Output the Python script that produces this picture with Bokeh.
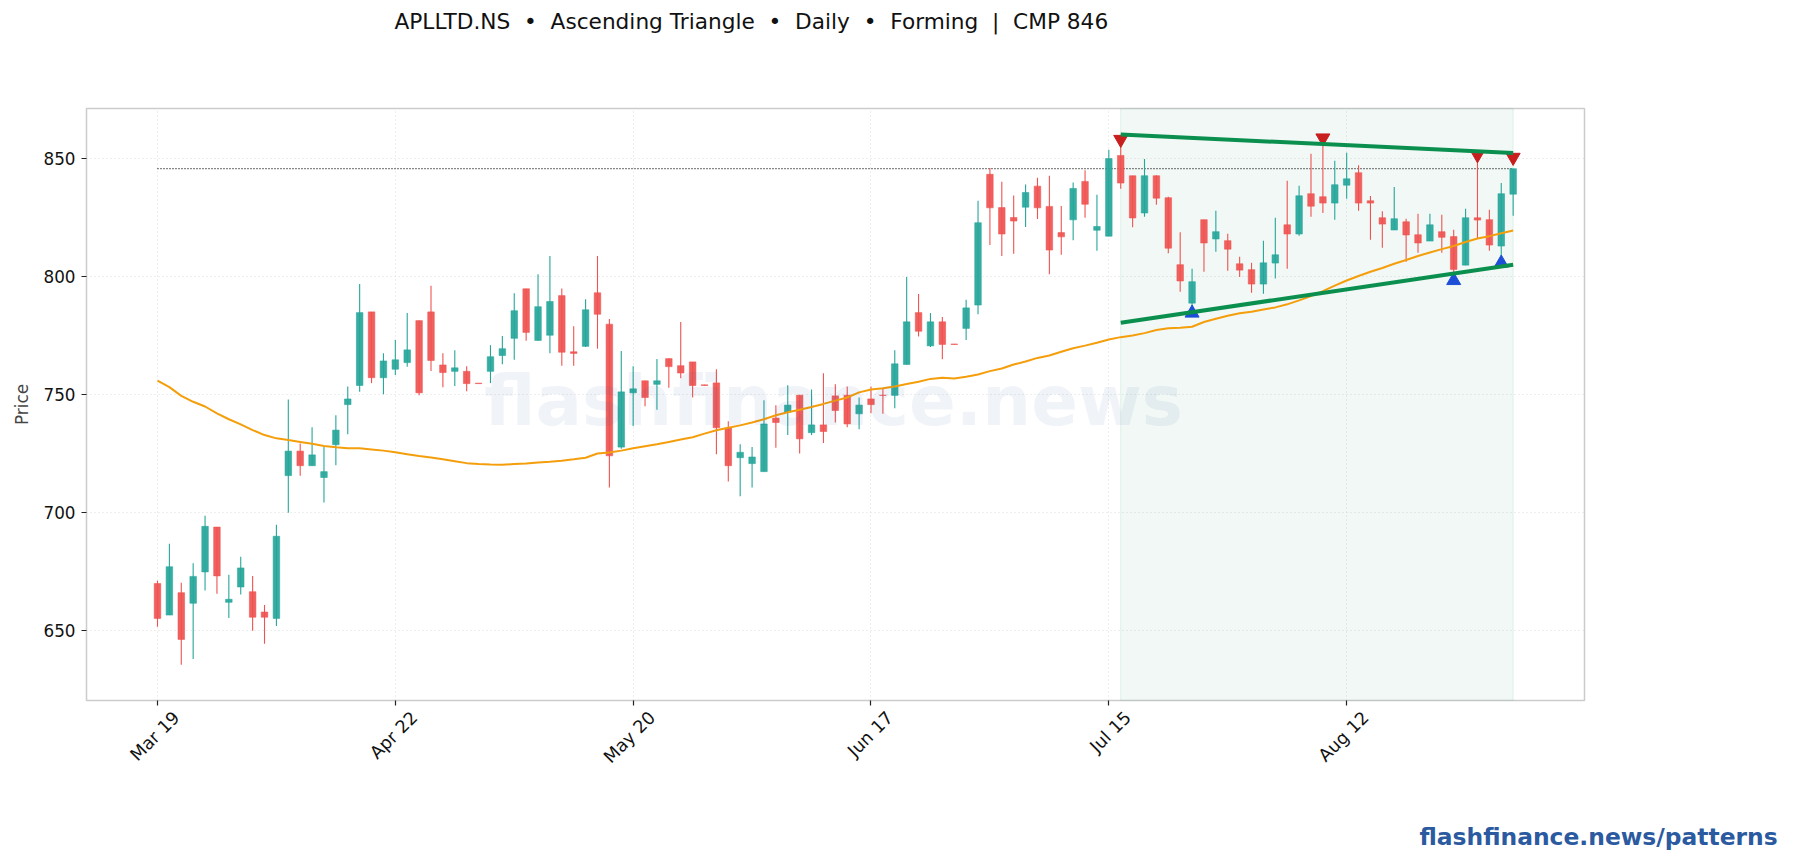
from bokeh.plotting import figure
from bokeh.models import ColumnDataSource, FixedTicker, Label, BoxAnnotation, Title, LinearAxis, Range1d
from bokeh.embed import file_html
from bokeh.resources import INLINE
import math

NB = "\u00a0"
title_text = f"APLLTD.NS{NB}{NB}•{NB}{NB}Ascending Triangle{NB}{NB}•{NB}{NB}Daily{NB}{NB}•{NB}{NB}Forming{NB}{NB}|{NB}{NB}CMP 846"
watermark_text = "flashfinance.news"
footer_text = "flashfinance.news/patterns"
y_label = "Price"

tick_index = [0, 20, 40, 60, 80, 100]
tick_labels = ["Mar 19", "Apr 22", "May 20", "Jun 17", "Jul 15", "Aug 12"]
y_ticks = [650, 700, 750, 800, 850]

opens = [670.0,656.6,666.1,661.6,674.9,693.9,662.0,668.5,666.5,657.9,655.2,715.7,726.1,719.9,714.9,728.8,745.8,753.9,785.1,757.2,
         760.8,763.6,781.4,785.1,762.6,759.9,759.9,754.9,759.9,766.6,773.9,794.9,773.0,775.2,792.0,768.2,770.5,793.2,779.9,727.8,
         750.8,755.9,754.4,765.3,762.3,763.9,754.2,755.0,735.9,723.3,720.8,717.4,740.1,742.6,749.8,733.9,737.2,749.5,749.8,741.9,
         748.2,749.8,749.7,762.8,784.8,770.7,780.9,771.5,778.1,788.0,843.4,829.3,825.1,829.5,838.4,829.8,818.7,824.1,840.4,819.7,
         817.2,851.4,842.8,827.0,842.8,833.5,805.1,788.8,824.2,816.0,815.3,805.5,803.0,796.9,805.8,822.0,818.1,835.2,833.9,831.2,
         838.8,844.1,832.2,825.0,819.8,823.3,817.8,815.1,819.1,817.0,804.9,825.0,824.2,813.0,835.0]
closes = [655.2,677.1,646.3,673.0,694.2,673.2,663.3,676.6,655.7,655.7,690.0,726.1,719.9,724.5,717.4,735.0,748.2,784.8,757.2,764.3,
          764.8,769.0,750.8,764.5,759.4,761.4,754.7,754.7,766.1,769.5,785.6,776.4,787.3,789.5,768.0,767.5,786.0,784.1,724.1,751.2,
          752.5,748.8,755.9,761.9,759.2,753.9,753.9,736.0,719.9,725.6,723.6,737.6,738.2,745.6,731.3,737.2,734.4,743.3,737.6,745.6,
          745.8,749.7,763.1,780.9,776.9,780.9,771.3,771.3,786.8,822.9,829.2,818.1,823.6,835.7,829.2,811.3,816.9,837.4,830.7,821.3,
          850.1,839.7,824.9,842.8,833.3,812.1,798.2,797.9,814.3,819.1,811.7,802.8,796.9,805.9,809.3,818.1,834.3,829.9,831.2,839.0,
          841.5,831.2,831.2,822.3,824.6,817.7,814.3,822.0,816.7,803.1,825.0,824.0,813.4,835.2,845.8]
highs = [671.2,686.8,670.3,678.6,698.7,693.9,673.7,681.3,673.2,660.9,694.9,748.0,729.3,736.2,727.8,741.3,753.5,796.9,785.1,767.6,
         773.2,784.6,781.4,796.2,767.6,768.8,762.1,754.9,771.0,774.9,793.0,794.9,801.1,808.8,795.0,779.0,790.5,808.8,782.1,768.5,
         762.1,755.9,765.1,765.3,780.8,763.9,754.2,760.8,738.7,729.0,727.8,747.6,745.5,754.0,749.8,752.2,759.1,754.4,753.5,748.8,
         753.5,752.4,768.8,799.9,792.7,784.6,782.9,771.5,790.2,832.2,846.1,840.3,834.4,839.1,841.9,842.8,830.0,839.9,845.1,834.7,
         853.8,858.2,842.8,849.9,843.0,833.9,818.9,803.4,824.2,828.0,818.2,808.5,805.9,815.3,825.0,840.7,838.6,852.1,858.8,849.2,
         852.5,847.3,834.2,827.8,838.0,824.6,826.7,826.7,826.3,819.9,828.8,851.7,828.4,839.7,845.8]
lows = [651.7,656.6,635.5,638.0,667.0,665.6,655.4,665.3,650.0,644.5,652.0,700.0,715.7,719.9,704.3,720.1,733.2,751.3,754.9,750.2,
        758.4,761.8,749.8,760.1,753.2,753.7,751.5,754.7,754.9,762.9,764.8,772.9,773.0,767.6,762.3,762.3,770.2,769.5,710.7,727.1,
        736.7,745.1,743.6,752.9,757.0,748.8,753.9,724.8,713.2,707.0,710.7,717.4,727.5,732.9,725.1,732.9,729.5,738.2,736.2,735.4,
        742.1,741.9,744.3,762.8,774.7,770.2,765.0,771.3,773.2,784.1,813.5,808.8,809.7,821.1,824.5,801.1,809.3,815.5,825.0,811.0,
        817.2,837.3,821.0,825.4,830.5,810.0,793.6,784.6,802.1,810.6,802.5,799.9,793.2,792.8,799.2,803.4,817.4,825.4,827.0,824.2,
        833.1,828.0,815.7,812.3,819.8,806.4,810.2,815.1,810.2,798.4,804.9,816.2,811.0,805.8,825.8]
ma_line = [756.0,753.2,749.5,747.0,745.0,742.1,739.6,737.4,735.0,732.9,731.5,730.8,730.0,729.2,728.3,727.7,727.3,727.3,726.8,726.3,
           725.6,724.8,724.0,723.4,722.6,721.8,721.0,720.6,720.4,720.3,720.6,720.8,721.3,721.6,722.0,722.6,723.3,725.1,725.5,726.3,
           727.3,728.2,729.0,730.0,731.0,732.0,733.5,734.9,736.0,737.0,738.2,739.6,741.3,742.6,743.6,744.8,746.1,747.5,748.8,751.0,
           752.2,752.7,753.5,754.5,755.5,756.7,757.2,756.9,757.6,758.6,760.0,761.1,762.8,764.1,765.6,766.6,768.2,769.7,770.8,772.0,
           773.4,774.4,775.1,776.1,777.4,778.2,778.4,778.8,780.8,782.2,783.5,784.5,785.2,786.1,787.0,788.3,790.0,791.8,793.9,796.2,
           798.4,800.3,802.1,803.7,805.5,807.1,808.8,810.3,811.7,813.0,814.7,816.2,817.2,818.4,819.6]

swing_high_idx = [81, 98, 111, 114]
swing_high_val = [858.2, 858.8, 851.7, 850.6]
swing_low_idx = [87, 109, 113]
swing_low_val = [784.6, 798.4, 805.8]

upper_idx = [81, 114]
upper_val = [860.3, 852.4]
lower_idx = [81, 114]
lower_val = [780.5, 805.1]
pattern_span = [81, 114]
cmp_price = 845.8

GREEN = "#26a69a"
RED = "#ef5350"
idx = list(range(len(opens)))
colors = [GREEN if c >= o else RED for o, c in zip(opens, closes)]
src = ColumnDataSource(dict(x=idx, top=[max(o, c) for o, c in zip(opens, closes)],
                            bottom=[min(o, c) for o, c in zip(opens, closes)],
                            high=highs, low=lows, color=colors))

W, H = 1785, 852
FL, FT, FW, FH = 86, 108, 1498, 592
XS, XE = -5.97, 120.0
LABEL_SHIFT = 1.6

p = figure(width=W, height=H, output_backend="svg", toolbar_location=None,
           x_range=(XS, XE), y_range=(620.4, 871.3),
           frame_width=FW, frame_height=FH, min_border_left=FL, min_border_top=FT,
           min_border_right=W - FL - FW, min_border_bottom=H - FT - FH)
p.background_fill_color = "white"
p.border_fill_color = "white"
p.outline_line_color = "#cccccc"
p.outline_line_width = 1.5

# tick marks only: minor ticks carry no labels
p.xaxis.ticker = FixedTicker(ticks=[], minor_ticks=tick_index)
p.xaxis.axis_line_color = None
p.xaxis.major_tick_line_color = None
p.xaxis.minor_tick_line_color = "#222222"
p.xaxis.minor_tick_line_width = 1.2
p.xaxis.minor_tick_out = 5
p.xaxis.minor_tick_in = 0
p.xgrid[0].ticker = FixedTicker(ticks=tick_index)

p.yaxis.ticker = FixedTicker(ticks=y_ticks)
p.yaxis.axis_line_color = None
p.yaxis.major_tick_line_color = "#222222"
p.yaxis.major_tick_line_width = 1.2
p.yaxis.major_tick_out = 5
p.yaxis.major_tick_in = 0
p.yaxis.minor_tick_line_color = None
p.yaxis.major_label_text_font = "DejaVu Sans"
p.yaxis.major_label_text_font_size = "16.8px"
p.yaxis.major_label_text_color = "#111111"
p.yaxis.major_label_standoff = 6
p.yaxis.axis_label = y_label
p.yaxis.axis_label_text_font = "DejaVu Sans"
p.yaxis.axis_label_text_font_style = "normal"
p.yaxis.axis_label_text_font_size = "16.8px"
p.yaxis.axis_label_text_color = "#444444"
p.yaxis.axis_label_standoff = 8

# Rotated labels centred under their ticks: a tick-less axis on a shifted range.
p.extra_x_ranges = {"labels": Range1d(XS - LABEL_SHIFT, XE - LABEL_SHIFT)}
lab_axis = LinearAxis(x_range_name="labels", ticker=FixedTicker(ticks=tick_index),
                      major_label_overrides={i: s for i, s in zip(tick_index, tick_labels)},
                      major_label_orientation=math.pi / 4,
                      axis_line_color=None, major_tick_line_color=None, minor_tick_line_color=None,
                      major_label_text_font="DejaVu Sans", major_label_text_font_size="17.6px",
                      major_label_text_color="#111111", major_label_standoff=3)
p.add_layout(lab_axis, "below")

for g in (p.xgrid[0], p.ygrid[0]):
    g.grid_line_color = "#dddddd"
    g.grid_line_dash = "1 3"
    g.grid_line_width = 1

p.add_layout(BoxAnnotation(left=pattern_span[0], right=pattern_span[1], fill_color="#0b8f4f",
                           fill_alpha=0.06, line_color="#0b8f4f", line_alpha=0.1, line_width=1, level="underlay"))

p.line(idx, [cmp_price] * len(idx), line_color="#111111", line_width=1.4, line_dash="1 2")
p.segment("x", "high", "x", "low", source=src, line_color="color", line_width=1.1)
p.vbar("x", width=0.55, top="top", bottom="bottom", source=src, fill_color="color", fill_alpha=0.92,
       line_color="color", line_alpha=0.92, line_width=0.6)
p.line(idx, ma_line, line_color="#f59e0b", line_width=2)
p.scatter(swing_high_idx, swing_high_val, marker="inverted_triangle", size=14, color="#c81e1e")
p.scatter(swing_low_idx, swing_low_val, marker="triangle", size=14, color="#1d4ed8")
p.line(upper_idx, upper_val, line_color="#0b8f4f", line_width=4)
p.line(lower_idx, lower_val, line_color="#0b8f4f", line_width=4)

p.add_layout(Label(x=747, y=300, x_units="screen", y_units="screen", text=watermark_text,
                   text_font="DejaVu Sans", text_font_style="bold", text_font_size="69px",
                   text_color="#2a5598", text_alpha=0.07, text_align="center", text_baseline="middle"))

def spacer(gap):
    # a blank title stacked between the plot and the real title
    return Title(text=NB, standoff=gap, text_font="DejaVu Sans", text_font_size="10px", text_color="white")

p.add_layout(spacer(62), "above")
p.add_layout(Title(text=title_text, align="left", offset=308, standoff=0,
                   text_font="DejaVu Sans", text_font_style="normal", text_font_size="21.67px",
                   text_color="#111111"), "above")
p.add_layout(spacer(30), "below")
p.add_layout(Title(text=footer_text, align="left", offset=1333, standoff=0,
                   text_font="DejaVu Sans", text_font_style="bold", text_font_size="23.4px",
                   text_color="#2b5aa0"), "below")

open("out.html", "w").write(file_html(p, INLINE))
